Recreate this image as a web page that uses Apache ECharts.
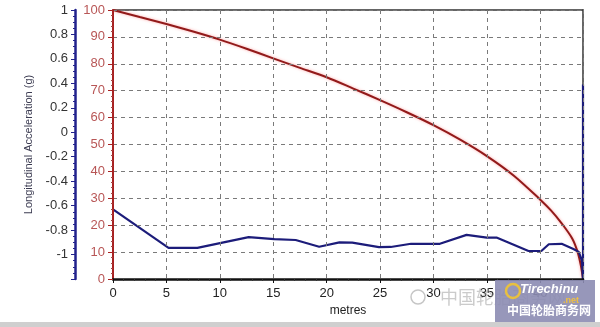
<!DOCTYPE html>
<html>
<head>
<meta charset="utf-8">
<script src="https://cdn.jsdelivr.net/npm/echarts@6/dist/echarts.min.js"></script>
<style>
  html, body { margin: 0; padding: 0; background: #fff; }
  #chart { width: 600px; height: 327px; }
</style>
</head>
<body>
<div id="chart"></div>
<script>
// speed (km/h) against distance
var speedX = [0, 2.5, 5, 7.5, 10, 12.5, 15, 17.5, 20, 22.5, 25, 27.5, 30, 32.5, 35, 37.5, 40, 41, 42, 43, 43.5, 43.8, 44];
var speedY = [100, 97.4, 94.8, 92, 89, 85.6, 82, 78.5, 75, 70.8, 66.5, 62, 57.2, 51.8, 45.7, 38.5, 29.5, 25.5, 20.7, 15, 10, 5, 0];

// longitudinal acceleration (g) against distance
var accelX = [0, 5.2, 7.9, 12.7, 15.1, 17.1, 19.3, 21.2, 22.4, 24.9, 26.0, 27.9, 30.6, 33.1, 35.0, 35.9, 38.9, 40.1, 40.8, 42.0, 43.1, 43.6, 43.9, 44.0, 44.0];
var accelG = [-0.63, -0.945, -0.945, -0.857, -0.874, -0.881, -0.936, -0.901, -0.903, -0.940, -0.938, -0.912, -0.912, -0.839, -0.861, -0.861, -0.971, -0.971, -0.916, -0.912, -0.954, -0.978, -1.05, -1.2, 0.39];

var xTicks = [0, 5, 10, 15, 20, 25, 30, 35, 40];

function pairs(xs, ys) {
    var out = [];
    for (var i = 0; i < xs.length; i++) out.push([xs[i], ys[i]]);
    return out;
}

var font = '"Liberation Sans", Arial, sans-serif';
var dash = { color: '#7a7a7a', type: [4, 4], width: 1 };
var chart = echarts.init(document.getElementById('chart'));

var option = {
    backgroundColor: '#ffffff',
    animation: false,
    grid: { left: 113, right: 17, top: 10, bottom: 48, outerBoundsMode: 'none' },
    xAxis: [{
        type: 'value', min: 0, max: 44, interval: 5,
        name: 'metres', nameLocation: 'middle', nameGap: 25,
        nameTextStyle: { color: '#222', fontSize: 12, fontFamily: font },
        axisLine: { show: true, onZero: false, lineStyle: { color: '#111', width: 2.5 } },
        axisTick: { show: true, length: 4, lineStyle: { color: '#111' } },
        minorTick: { show: true, splitNumber: 5, length: 2, lineStyle: { color: '#333' } },
        axisLabel: {
            color: '#222', fontSize: 13, fontFamily: font, margin: 8,
            formatter: function (v) { return xTicks.indexOf(v) >= 0 ? String(v) : ''; }
        },
        splitLine: { show: true, lineStyle: dash },
        z: 5
    }, {
        // top frame
        type: 'value', position: 'top', min: 0, max: 44,
        axisLine: { show: true, onZero: false, lineStyle: { color: '#333', width: 1.5 } },
        axisTick: { show: false }, axisLabel: { show: false }, splitLine: { show: false }
    }],
    yAxis: [{
        type: 'value', min: 0, max: 100, interval: 10, position: 'left',
        axisLine: { show: true, onZero: false, lineStyle: { color: '#a82222', width: 2 } },
        axisTick: { show: true, length: 5, lineStyle: { color: '#a82222' } },
        minorTick: { show: true, splitNumber: 5, length: 2, lineStyle: { color: '#a84444' } },
        axisLabel: { color: '#b85656', fontSize: 13, fontFamily: font, margin: 8 },
        splitLine: { show: true, lineStyle: dash },
        z: 5
    }, {
        type: 'value', min: -1.2, max: 1, interval: 0.2, position: 'left', offset: 38,
        name: 'Longitudinal Acceleration (g)', nameLocation: 'middle', nameGap: 22,
        nameTextStyle: { color: '#3c3c52', fontSize: 11, fontFamily: font },
        axisLine: { show: true, onZero: false, lineStyle: { color: '#22228c', width: 2.5 } },
        axisTick: { show: true, length: 4, lineStyle: { color: '#22228c' } },
        minorTick: { show: true, splitNumber: 4, length: 2, lineStyle: { color: '#22228c' } },
        axisLabel: {
            color: '#333', fontSize: 13, fontFamily: font, margin: 7,
            formatter: function (v) {
                if (Math.abs(v + 1.2) < 1e-6) return '';
                return String(+v.toFixed(1));
            }
        },
        splitLine: { show: false }
    }, {
        // right frame
        type: 'value', position: 'right', min: 0, max: 100,
        axisLine: { show: true, onZero: false, lineStyle: { color: '#333', width: 1.5 } },
        axisTick: { show: false }, axisLabel: { show: false }, splitLine: { show: false }
    }],
    series: [{
        name: 'Speed', type: 'line', yAxisIndex: 0, showSymbol: false, smooth: 0.3,
        data: pairs(speedX, speedY),
        lineStyle: { color: '#921a1a', width: 2, shadowColor: 'rgba(255,110,110,0.6)', shadowBlur: 3 },
        z: 3
    }, {
        name: 'Acceleration', type: 'line', yAxisIndex: 1, showSymbol: false,
        data: pairs(accelX, accelG),
        lineStyle: { color: '#1c1c7a', width: 2.2 },
        z: 4
    }],
    graphic: [
        { type: 'rect', left: 0, top: 322, shape: { width: 600, height: 5 }, style: { fill: '#cfcfcf' }, z: 10 },
        { type: 'circle', shape: { cx: 418, cy: 297, r: 7 }, style: { fill: 'none', stroke: 'rgba(160,160,160,0.6)', lineWidth: 1.5 }, z: 10 },
        { type: 'text', left: 440, top: 288, style: { text: '中国轮胎商务网', fill: 'rgba(160,160,160,0.55)', font: '18px "Noto Sans CJK SC"' }, z: 10 },
        { type: 'rect', left: 495, top: 280, shape: { width: 100, height: 42 }, style: { fill: 'rgba(140,140,178,0.9)' }, z: 11 },
        { type: 'text', left: 520, top: 283, style: { text: 'Tirechinu', fill: '#ffffff', font: 'italic bold 13px "Liberation Sans"' }, z: 12 },
        { type: 'text', left: 563, top: 296, style: { text: '.net', fill: '#f0c040', font: 'bold 9px "Liberation Sans"' }, z: 12 },
        { type: 'circle', shape: { cx: 513, cy: 291, r: 7 }, style: { fill: 'none', stroke: '#e8c040', lineWidth: 2.5 }, z: 12 },
        { type: 'text', left: 507, top: 304, style: { text: '中国轮胎商务网', fill: '#ffffff', font: 'bold 12px "Noto Sans CJK SC"' }, z: 12 }
    ]
};

chart.setOption(option);
</script>
</body>
</html>
